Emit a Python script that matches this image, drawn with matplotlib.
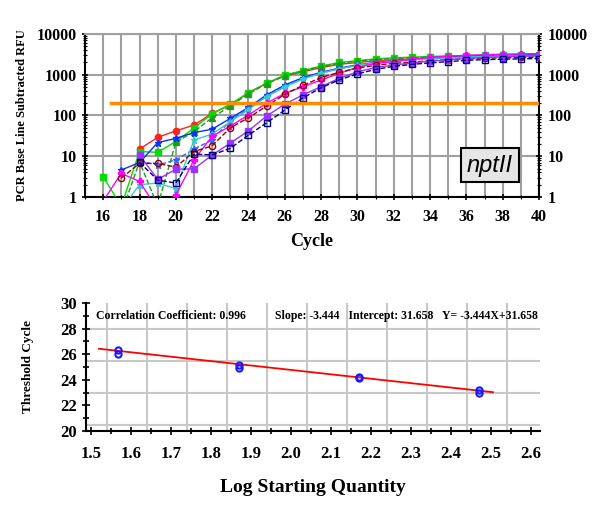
import matplotlib
matplotlib.use("Agg")
import matplotlib.pyplot as plt
import numpy as np
from matplotlib.ticker import MultipleLocator, LogLocator, NullFormatter

plt.rcParams["font.family"] = ["Liberation Serif", "DejaVu Serif"]
plt.rcParams["font.weight"] = "bold"

nan = np.nan

# amplification curves, cycles 16..40
cycles = np.arange(16, 41)
red = [nan, nan, 15, 29, 42, 58, 113, 180, 363, 620, 930, 1180, 1500, 1800, 2000,
       2200, 2350, 2450, 2550, 2650, 2700, 2750, 2800, 2850, 2900]
green = [3.1, 0.6, 13, 12.5, 23, 49, 110, 190, 360, 620, 980, 1260, 1630, 2000, 2220,
         2450, 2600, 2700, 2800, 2900, 2950, 3000, 3000, 3050, 3100]
dark_green = [nan, 0.4, 7.3, 0.6, 22, 40, 88, 170, 340, 600, 940, 1250, 1600, 1900, 2150,
              2350, 2500, 2600, 2700, 2750, 2800, 2850, 2850, 2900, 2900]
blue = [nan, 4.6, 7, 21.5, 27.5, 38, 46, 85, 158, 320, 560, 850, 1150, 1450, 1750,
        2000, 2200, 2400, 2600, 2750, 2850, 2950, 3000, 3100, 3200]
blue2 = [nan, nan, 7.5, 6.1, 8.1, 15, 25, 75, 150, 300, 520, 800, 1100, 1400, 1700,
         1950, 2150, 2350, 2500, 2650, 2750, 2850, 2950, 3000, 3100]
cyan = [nan, 0.5, 2.0, 2.2, 1.6, 25, 35, 70, 140, 290, 500, 780, 1100, 1400, 1700,
        1950, 2150, 2350, 2500, 2600, 2700, 2800, 2850, 2900, 2950]
magenta = [0.8, 3.8, 2.4, 0.5, 1.1, 8.1, 31, 55, 103, 200, 350, 510, 740, 1080, 1520,
           1900, 2100, 2400, 2650, 2850, 3000, 3100, 3200, 3250, 3300]
brown = [nan, 2.9, 6.7, 6.7, 5.4, 13, 18, 50, 88, 170, 330, 550, 850, 1150, 1450,
         1700, 1900, 2050, 2200, 2350, 2450, 2550, 2600, 2650, 2700]
purple = [nan, nan, 10.7, 2.7, 4.8, 4.9, 10.7, 21, 42, 97, 190, 320, 510, 820, 1180,
          1500, 1730, 1950, 2150, 2350, 2500, 2650, 2750, 2850, 2950]
navy = [nan, nan, 7.1, 2.6, 2.2, 11.2, 10.8, 15.6, 33, 66, 136, 270, 480, 750, 1050,
        1350, 1600, 1800, 1950, 2100, 2250, 2350, 2400, 2450, 2500]

threshold = 200
threshold_start = 16.42

# standard curve
log_qty = [1.568, 1.568, 1.870, 1.870, 2.170, 2.170, 2.470, 2.470]
ct = [26.3, 26.05, 25.15, 24.9, 24.2, 24.15, 23.2, 23.0]
slope = -3.444
intercept = 31.658
fit_range = [1.52, 2.505]

curves = [
    (red, "#ff2020", "-", "o", True),
    (green, "#00dd00", "-", "s", True),
    (dark_green, "#229922", "--", "^", True),
    (blue, "#0033ff", "-", "*", True),
    (blue2, "#3366ff", "--", "*", True),
    (cyan, "#33cccc", "-", "*", True),
    (magenta, "#ff00ff", "-", "P", True),
    (brown, "#990000", "--", "o", False),
    (purple, "#9933ff", "-", "s", True),
    (navy, "#000080", "--", "s", False),
]

fig = plt.figure(figsize=(6, 5.11), dpi=100)

# ---- amplification plot
ax = fig.add_axes([0.1417, 0.6145, 0.7567, 0.319])
ax.set_yscale("log")
for vals, col, ls, mk, filled in curves:
    ax.plot(cycles, vals, color=col, ls=ls, lw=1.0, marker=mk, ms=4.5,
            mfc=col if filled else "none", mec=col, mew=1.0, zorder=3)
ax.plot([threshold_start, 40], [threshold, threshold], color="#ff8c00", lw=2.5, zorder=4)

ax.set_xlim(15, 40)
ax.set_ylim(1, 10000)
ax.xaxis.set_major_locator(MultipleLocator(2))
ax.xaxis.set_minor_locator(MultipleLocator(1))
ax.set_yticks([1, 10, 100, 1000, 10000], ["1", "10", "100", "1000", "10000"])
ax.yaxis.set_minor_locator(LogLocator(base=10, subs=np.arange(2, 10)))
ax.yaxis.set_minor_formatter(NullFormatter())
ax.grid(True, which="major", color="#a0a0a0", lw=1.5, zorder=0)
ax.grid(True, which="minor", axis="x", color="#a0a0a0", lw=1.5, zorder=0)
ax.tick_params(axis="both", which="major", labelsize=11.5, direction="inout", length=5, width=1.2)
ax.tick_params(axis="both", which="minor", direction="inout", length=3, width=0.8)
ax.tick_params(axis="y", which="both", left=True, right=True, labelright=True)
ax.tick_params(axis="x", pad=6)
for s in ["left", "right", "bottom"]:
    ax.spines[s].set_linewidth(1.5)
ax.spines["top"].set_color("#a0a0a0")
ax.spines["top"].set_linewidth(1.5)
ax.set_xlabel("Cycle", fontsize=13, fontweight="bold", labelpad=6)
ax.set_ylabel("PCR Base Line Subtracted RFU", fontsize=9, fontweight="bold")
ax.yaxis.set_label_coords(-0.125, 0.5)

fig.text(0.8167, 0.677, "nptII", fontsize=17, style="italic", fontweight="normal",
         family=["Liberation Sans", "DejaVu Sans"], ha="center", va="center",
         bbox=dict(boxstyle="square,pad=0.25", fc="#e6e6e6", ec="black", lw=1.5))

# ---- standard curve
ax2 = fig.add_axes([0.1433, 0.1566, 0.7567, 0.2505])
for gy in [20.5, 23, 25.5, 28]:
    ax2.axhline(gy, color="#c8c8c8", lw=1.5, zorder=0)
for gx in np.arange(1.54, 2.62, 0.1):
    ax2.axvline(gx, color="#c8c8c8", lw=1.5, zorder=0)
ax2.plot(fit_range, [slope * x + intercept for x in fit_range], color="red", lw=1.3, zorder=2)
ax2.plot(log_qty, ct, ls="none", marker="o", ms=4.5, mfc="none", mec="#1a1aff", mew=1.5, zorder=3)

ax2.set_xlim(1.4875, 2.6225)
ax2.set_ylim(20, 30)
ax2.set_xticks(np.round(np.arange(1.5, 2.61, 0.1), 1))
ax2.xaxis.set_minor_locator(MultipleLocator(0.05))
ax2.yaxis.set_major_locator(MultipleLocator(2))
ax2.yaxis.set_minor_locator(MultipleLocator(1))
ax2.tick_params(axis="both", which="major", labelsize=12, direction="inout", length=6, width=1.2)
ax2.tick_params(axis="both", which="minor", direction="inout", length=5, width=1.2)
ax2.tick_params(axis="x", pad=8)
for s in ["top", "right"]:
    ax2.spines[s].set_visible(False)
for s in ["left", "bottom"]:
    ax2.spines[s].set_linewidth(1.5)
ax2.set_xlabel("Log Starting Quantity", fontsize=14, fontweight="bold", labelpad=12)
ax2.set_ylabel("Threshold Cycle", fontsize=9.5, fontweight="bold")
ax2.yaxis.set_label_coords(-0.115, 0.5)

ax2.text(0.022, 0.9, "Correlation Coefficient: 0.996", transform=ax2.transAxes,
         fontsize=8.5, fontweight="bold", va="center")
ax2.text(0.995, 0.9, "Slope: -3.444   Intercept: 31.658   Y= -3.444X+31.658",
         transform=ax2.transAxes, fontsize=8.5, fontweight="bold", va="center", ha="right")

fig.savefig("out.png", dpi=100)
